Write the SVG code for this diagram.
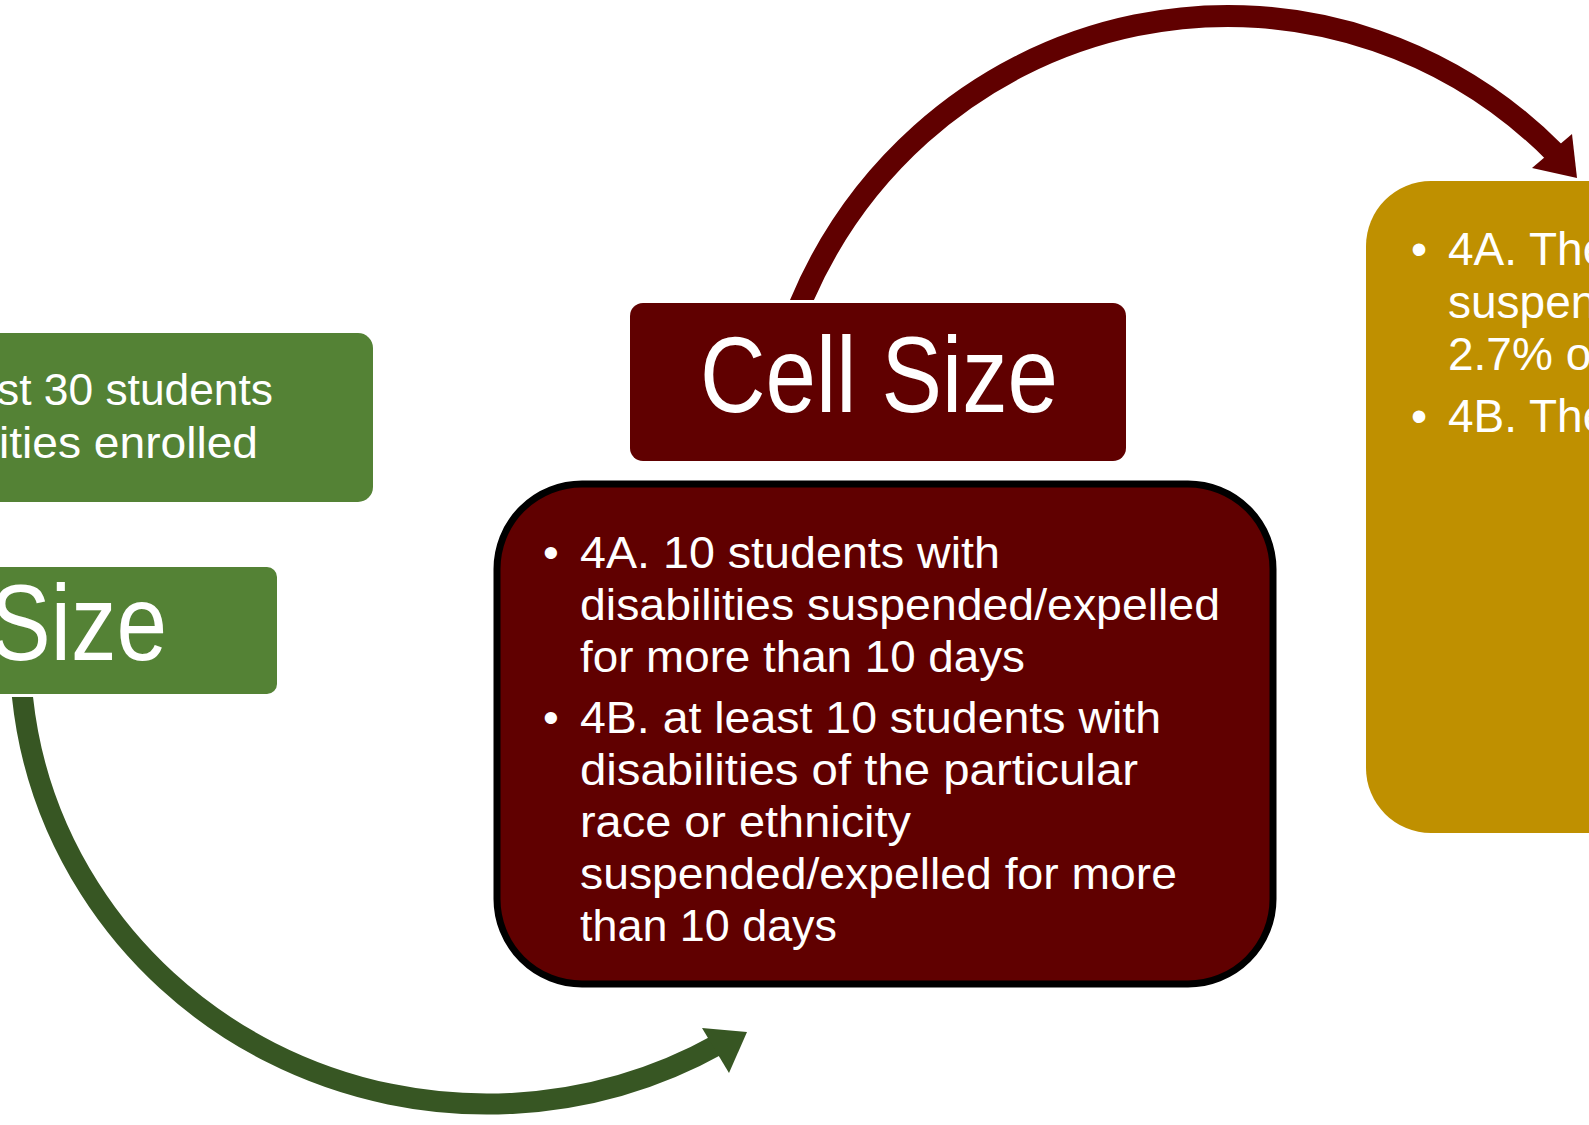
<svg xmlns="http://www.w3.org/2000/svg" width="1589" height="1125" viewBox="0 0 1589 1125">
  <style>
    .t { font-family: "Liberation Sans", Arial, sans-serif; fill: #ffffff; }
    .body { font-size: 45px; }
    .title { font-size: 107px; }
    .green { fill: #548235; }
    .maroon { fill: #600000; }
    .gold { fill: #bf9000; }
  </style>
  <defs>
    <clipPath id="clipTop"><rect x="0" y="0" width="1589" height="300"/></clipPath>
    <clipPath id="clipBottom"><rect x="0" y="697" width="1589" height="428"/></clipPath>
  </defs>
  <rect width="1589" height="1125" fill="#ffffff"/>

  <g id="connectors">
    <g id="arrow-green">
      <path d="M 21.6 688 A 467 454 0 0 0 720 1043.5" fill="none" stroke="#375623" stroke-width="21" clip-path="url(#clipBottom)"/>
      <polygon points="747,1032 702,1028 729,1073" fill="#375623"/>
    </g>
    <g id="arrow-maroon">
      <path d="M 797.8 310 A 465 474 0 0 1 1556 154" fill="none" stroke="#600000" stroke-width="22" clip-path="url(#clipTop)"/>
      <polygon points="1577,178 1572,134 1532,168" fill="#600000"/>
    </g>
  </g>

  <g id="node-green-criteria">
    <rect class="green" x="-20" y="333" width="393" height="169" rx="15"/>
    <text class="t body" x="-3" y="405" textLength="276" lengthAdjust="spacingAndGlyphs">st 30 students</text>
    <text class="t body" x="-1" y="458" textLength="259" lengthAdjust="spacingAndGlyphs">ities enrolled</text>
  </g>

  <g id="node-green-title">
    <rect class="green" x="-20" y="567" width="297" height="127" rx="10"/>
    <text class="t title" x="-10" y="660" textLength="177" lengthAdjust="spacingAndGlyphs">Size</text>
  </g>

  <g id="node-cellsize">
    <rect class="maroon" x="630" y="303" width="496" height="158" rx="13"/>
    <text class="t title" x="700" y="412" textLength="358" lengthAdjust="spacingAndGlyphs">Cell Size</text>
  </g>

  <g id="node-criteria">
    <rect class="maroon" x="497" y="484" width="776" height="500" rx="85" stroke="#000000" stroke-width="7"/>
    <text class="t body" x="543" y="568">•</text>
    <text class="t body" x="580" y="568" textLength="420" lengthAdjust="spacingAndGlyphs">4A. 10 students with</text>
    <text class="t body" x="580" y="620" textLength="640" lengthAdjust="spacingAndGlyphs">disabilities suspended/expelled</text>
    <text class="t body" x="580" y="672" textLength="445" lengthAdjust="spacingAndGlyphs">for more than 10 days</text>
    <text class="t body" x="543" y="733">•</text>
    <text class="t body" x="580" y="733" textLength="581" lengthAdjust="spacingAndGlyphs">4B. at least 10 students with</text>
    <text class="t body" x="580" y="785" textLength="558" lengthAdjust="spacingAndGlyphs">disabilities of the particular</text>
    <text class="t body" x="580" y="837" textLength="331" lengthAdjust="spacingAndGlyphs">race or ethnicity</text>
    <text class="t body" x="580" y="889" textLength="597" lengthAdjust="spacingAndGlyphs">suspended/expelled for more</text>
    <text class="t body" x="580" y="941" textLength="257" lengthAdjust="spacingAndGlyphs">than 10 days</text>
  </g>

  <g id="node-gold">
    <rect class="gold" x="1366" y="181" width="420" height="652" rx="65"/>
    <text class="t" font-size="46" x="1411" y="265">•</text>
    <text class="t" font-size="46" x="1448" y="265">4A. The</text>
    <text class="t" font-size="46" x="1448" y="318">suspen</text>
    <text class="t" font-size="46" x="1448" y="370">2.7% o</text>
    <text class="t" font-size="46" x="1411" y="432">•</text>
    <text class="t" font-size="46" x="1448" y="432">4B. The</text>
  </g>
</svg>
